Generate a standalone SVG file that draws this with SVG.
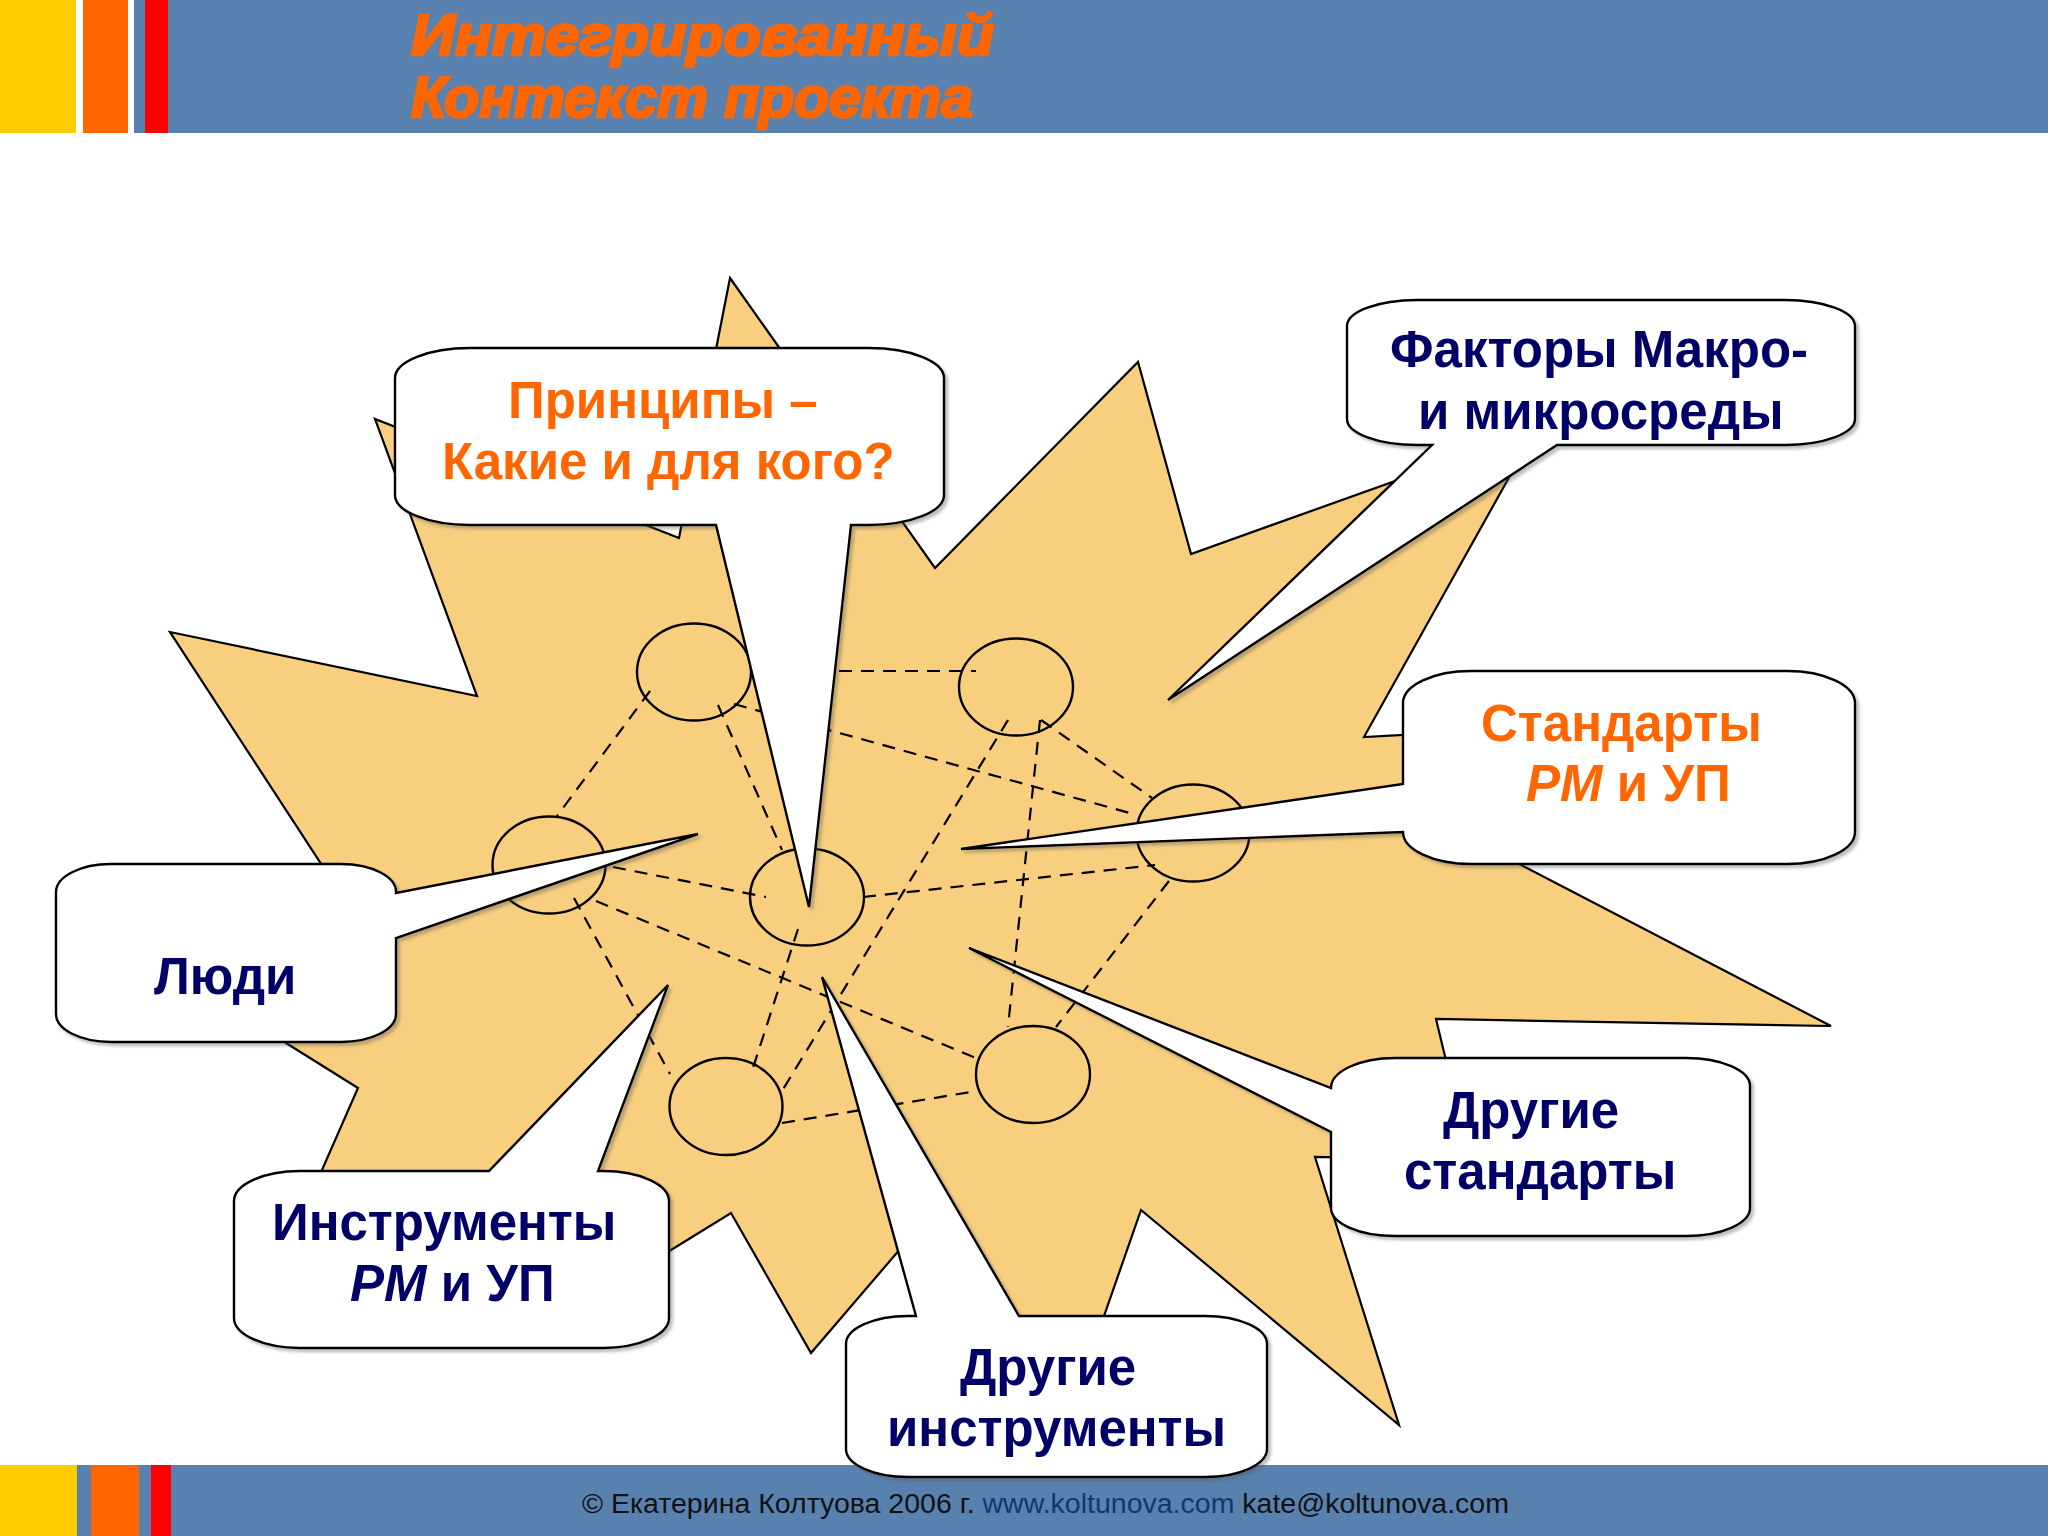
<svg xmlns="http://www.w3.org/2000/svg" width="2048" height="1536" viewBox="0 0 2048 1536">
<defs>
<filter id="sh" x="-5%" y="-5%" width="112%" height="112%"><feDropShadow dx="3" dy="3" stdDeviation="1.8" flood-color="#555" flood-opacity="0.38"/></filter>
</defs>
<style>
text{font-family:"Liberation Sans",Arial,sans-serif;font-weight:bold}
.n{fill:#000066;font-size:51px}
.o{fill:#FF6600;font-size:51px}
.i{font-style:italic}
.c{fill:#fff;stroke:#000;stroke-width:2.4;stroke-linejoin:miter;filter:url(#sh)}
.e{fill:none;stroke:#000;stroke-width:2.4}
#links line{stroke:#000;stroke-width:2.2;stroke-dasharray:13 9}
.t{fill:#FF6600;stroke:#FF6600;stroke-width:2.6;font-size:57px;font-style:italic}
.f{font-size:27px;font-weight:normal;fill:#111}
</style>
<rect width="2048" height="1536" fill="#fff"/>
<g id="header">
<rect x="0" y="0" width="2048" height="133" fill="#5981AF"/>
<rect x="0" y="0" width="134" height="133" fill="#fff"/>
<rect x="0" y="0" width="76" height="133" fill="#FFCC00"/>
<rect x="83" y="0" width="45" height="133" fill="#FF6600"/>
<rect x="134" y="0" width="11" height="133" fill="#5981AF"/>
<rect x="145" y="0" width="23" height="133" fill="#FF0000"/>
<text class="t" x="411" y="55" textLength="583" lengthAdjust="spacingAndGlyphs">Интегрированный</text>
<text class="t" x="411" y="117" textLength="562" lengthAdjust="spacingAndGlyphs">Контекст проекта</text>
</g>
<g id="footer">
<rect x="0" y="1465" width="2048" height="71" fill="#5981AF"/>
<rect x="0" y="1465" width="77" height="71" fill="#FFCC00"/>
<rect x="91" y="1465" width="48" height="71" fill="#FF6600"/>
<rect x="151" y="1465" width="20" height="71" fill="#FF0000"/>
<text class="f" x="582" y="1513" textLength="927" lengthAdjust="spacingAndGlyphs">© Екатерина Колтуова 2006 г. <tspan fill="#12386B">www.koltunova.com</tspan> kate@koltunova.com</text>
</g>
<polygon id="star" fill="#F8CF7F" stroke="#000" stroke-width="2.2" stroke-linejoin="miter" points="730,278 935,568 1138,362 1191,554 1535,431 1364,737 1440,733 1450,828 1831,1026 1436,1019 1470,1160 1315,1157 1399,1425 1141,1210 1104,1316 1060,1400 980,1340 925,1220 811,1353 731,1213 671,1250 640,1270 300,1220 358,1088 286,1043 240,1010 340,893 170,632 477,696 375,419 679,538"/>
<g id="links">
<line x1="650" y1="691" x2="557" y2="816"/>
<line x1="718" y1="705" x2="782" y2="850"/>
<line x1="734" y1="704" x2="1137" y2="815"/>
<line x1="751" y1="671" x2="976" y2="671"/>
<line x1="1041" y1="720" x2="1152" y2="798"/>
<line x1="1040" y1="720" x2="1008" y2="1027"/>
<line x1="1008" y1="720" x2="782" y2="1091"/>
<line x1="863" y1="897" x2="1155" y2="865"/>
<line x1="613" y1="867" x2="766" y2="897"/>
<line x1="596" y1="901" x2="976" y2="1058"/>
<line x1="574" y1="898" x2="670" y2="1074"/>
<line x1="798" y1="929" x2="751" y2="1074"/>
<line x1="1169" y1="881" x2="1056" y2="1027"/>
<line x1="782" y1="1123" x2="977" y2="1091"/>
</g>
<g id="node-a"><ellipse class="e" cx="694" cy="672" rx="57" ry="48.5"/></g>
<g id="node-b"><ellipse class="e" cx="1016" cy="687" rx="57" ry="48.5"/></g>
<g id="node-c"><ellipse class="e" cx="1193" cy="833" rx="56.5" ry="48.5"/></g>
<g id="node-d"><ellipse class="e" cx="549" cy="865" rx="56.5" ry="48.5"/></g>
<g id="node-e"><ellipse class="e" cx="807" cy="897" rx="57" ry="48.5"/></g>
<g id="node-f"><ellipse class="e" cx="1033" cy="1074.5" rx="57" ry="48.5"/></g>
<g id="node-g"><ellipse class="e" cx="726" cy="1106.5" rx="56.5" ry="48.5"/></g>
<g id="callout-principles">
<path class="c" d="M470,348 H869 A75,30 0 0 1 944,378 V495 A75,30 0 0 1 869,525 H851 L809,907 L716,525 H470 A75,30 0 0 1 395,495 V378 A75,30 0 0 1 470,348 Z"/>
<text class="o" x="508" y="418">Принципы –</text>
<text class="o" x="442" y="479">Какие и для кого?</text>
</g>
<g id="callout-factors">
<path class="c" d="M1417,300 H1785 A70,26 0 0 1 1855,326 V419 A70,26 0 0 1 1785,445 H1557 L1168,700 L1432,445 H1417 A70,26 0 0 1 1347,419 V326 A70,26 0 0 1 1417,300 Z"/>
<text class="n" x="1390" y="367">Факторы Макро-</text>
<text class="n" x="1418" y="429">и микросреды</text>
</g>
<g id="callout-standards">
<path class="c" d="M1471,671 H1787 A68,32 0 0 1 1855,703 V832 A68,32 0 0 1 1787,864 H1471 A68,32 0 0 1 1403,832 L961,849 L1403,784 V703 A68,32 0 0 1 1471,671 Z"/>
<text class="o" x="1481" y="741">Стандарты</text>
<text class="o" x="1526" y="801"><tspan class="i">PM</tspan> и УП</text>
</g>
<g id="callout-people">
<path class="c" d="M111,864 H341 A55,28 0 0 1 396,893 L698,834 L396,938 V1014 A55,28 0 0 1 341,1042 H111 A55,28 0 0 1 56,1014 V892 A55,28 0 0 1 111,864 Z"/>
<text class="n" x="154" y="994">Люди</text>
</g>
<g id="callout-tools">
<path class="c" d="M300,1171 H489 L668,985 L598,1171 H603 A66,30 0 0 1 669,1201 V1318 A66,30 0 0 1 603,1348 H300 A66,30 0 0 1 234,1318 V1201 A66,30 0 0 1 300,1171 Z"/>
<text class="n" x="272" y="1240">Инструменты</text>
<text class="n" x="350" y="1301"><tspan class="i">PM</tspan> и УП</text>
</g>
<g id="callout-other-standards">
<path class="c" d="M1395,1058 H1686 A64,28 0 0 1 1750,1086 V1208 A64,28 0 0 1 1686,1236 H1395 A64,28 0 0 1 1331,1208 V1132 L969,948 L1331,1088 A64,30 0 0 1 1395,1058 Z"/>
<text class="n" x="1443" y="1128">Другие</text>
<text class="n" x="1404" y="1189">стандарты</text>
</g>
<g id="callout-other-tools">
<path class="c" d="M908,1316 H916 L822,977 L1019,1316 H1205 A62,28 0 0 1 1267,1344 V1449 A62,28 0 0 1 1205,1477 H908 A62,28 0 0 1 846,1449 V1344 A62,28 0 0 1 908,1316 Z"/>
<text class="n" x="960" y="1385">Другие</text>
<text class="n" x="887" y="1446">инструменты</text>
</g>
</svg>
